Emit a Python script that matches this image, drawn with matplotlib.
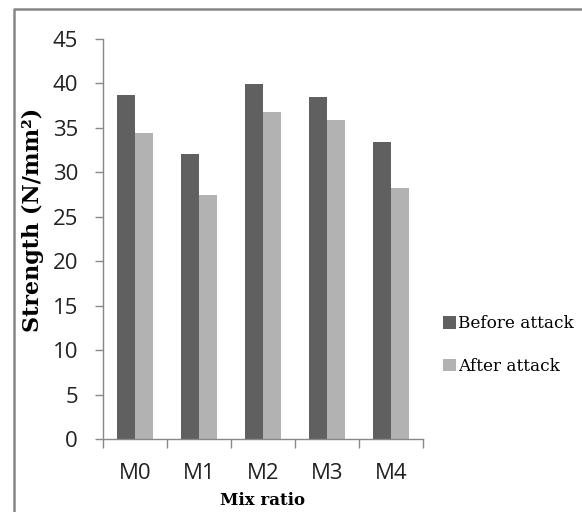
import matplotlib
matplotlib.use("Agg")
import matplotlib.pyplot as plt
import numpy as np
from matplotlib.lines import Line2D

categories = ["M0", "M1", "M2", "M3", "M4"]
before_attack = [38.7, 32.1, 39.9, 38.5, 33.4]
after_attack = [34.4, 27.4, 36.8, 35.9, 28.2]
yticks = [0, 5, 10, 15, 20, 25, 30, 35, 40, 45]

W, H = 582, 512
fig = plt.figure(figsize=(W/100, H/100), dpi=100)
# outer chart-area frame (only top and left edges are visible in the crop)
fig.lines.append(Line2D([13.5/W, 13.5/W, 1.0], [0.0, 1 - 8.5/H, 1 - 8.5/H],
                        transform=fig.transFigure, color="#868686", linewidth=1.8))

ax = fig.add_axes([103/W, (H-439)/H, 320/W, 400/H])
x = np.arange(len(categories))
bw = 0.28
ax.bar(x - bw/2, before_attack, bw, color="#606060", label="Before attack")
ax.bar(x + bw/2, after_attack, bw, color="#b2b2b2", label="After attack")

ax.set_xlim(-0.5, len(categories) - 0.5)
ax.set_ylim(0, 45)
ax.set_yticks(yticks)
ax.set_yticklabels([str(t) for t in yticks], fontsize=16, family="Open Sans", color="#222222")
ax.set_xticks(x)
ax.set_xticklabels(categories, fontsize=16, family="Open Sans", color="#222222")
ax.set_xticks(np.arange(len(categories) + 1) - 0.5, minor=True)
ax.tick_params(axis="x", which="major", length=0, pad=17)
ax.tick_params(axis="x", which="minor", length=6.5, color="#888888", width=1)
ax.tick_params(axis="y", length=6, color="#888888", width=1, pad=12)
for s in ["top", "right"]:
    ax.spines[s].set_visible(False)
for s in ["left", "bottom"]:
    ax.spines[s].set_color("#888888")
    ax.spines[s].set_linewidth(1)

ax.set_ylabel("Strength (N/mm²)", family="DejaVu Serif", fontweight="bold", fontsize=16)
ax.yaxis.set_label_coords(-59/320, (439 - 220)/400)
ax.set_xlabel("Mix ratio", family="DejaVu Serif", fontweight="bold", fontsize=12, labelpad=6)

leg = fig.legend(loc="center left", bbox_to_anchor=(428/W, 1 - 345/H), frameon=False,
                 prop={"family": "DejaVu Serif", "size": 12.2}, handlelength=0.75,
                 handleheight=0.75, handletextpad=0.12, labelspacing=1.5)
plt.savefig("out.png", dpi=100)
